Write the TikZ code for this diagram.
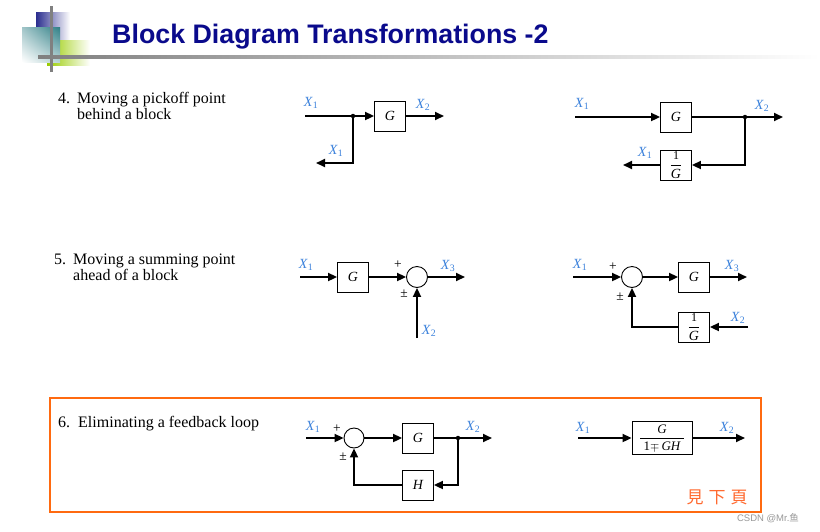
\documentclass[tikz,border=0pt]{standalone}
\usepackage{fontspec}
\setmainfont{Liberation Serif}
\newfontfamily\titlefont{Liberation Sans}
\newfontfamily\cjkfont{Noto Sans CJK TC}
\usetikzlibrary{arrows.meta,calc,shadings}
\definecolor{titleblue}{HTML}{0A0A8C}
\definecolor{lblblue}{HTML}{3C82DC}
\definecolor{boxorange}{HTML}{FF6A10}
\definecolor{noteorange}{HTML}{FF6A30}
\definecolor{logonavy}{HTML}{2B2E8F}
\definecolor{logoteal}{HTML}{2F7F86}
\definecolor{logogreen}{HTML}{99CC00}
\begin{document}
\begin{tikzpicture}[x=1pt,y=-1pt,
 sig/.style={line width=2pt,-{Triangle[length=9pt,width=8pt]}},
 wire/.style={line width=2pt},
 blk/.style={draw,line width=0.9pt,minimum width=31pt,minimum height=30pt,inner sep=0pt,font=\fontsize{14}{16}\selectfont\itshape},
 sumj/.style={draw,circle,line width=0.9pt,minimum size=21pt,inner sep=0pt},
 lbl/.style={text=lblblue,font=\fontsize{14}{16}\selectfont,inner sep=0pt},
 sgn/.style={font=\fontsize{13.5}{15}\selectfont,inner sep=0pt},
 itemtxt/.style={font=\fontsize{16}{18}\selectfont,anchor=base west,inner sep=0pt},
 jdot/.style={circle,fill,inner sep=0pt,minimum size=4.5pt}
]
\useasboundingbox (0,0) rectangle (820,531);
\fill[white] (0,0) rectangle (820,531);

% logo
\shade[left color=logonavy, middle color=logonavy!85, right color=white] (36,12) rectangle (70,40);
\shade[left color=logogreen, middle color=logogreen!80, right color=white] (47,40) rectangle (90,65);
\shade[upper right=logoteal, upper left=logoteal!45, lower left=white, lower right=logoteal!35] (22,27) rectangle (60,62);
\draw[gray, line width=3pt] (51,6) -- (51,72);
\shade[left color=gray, right color=white] (38,55.5) rectangle (820,58.5);

% title
\node[anchor=base west, text=titleblue, inner sep=0pt, font=\titlefont\bfseries\fontsize{26.8}{30}\selectfont] (title) at (112,43) {Block Diagram Transformations -2};

% item texts
\node[itemtxt] (n4) at (58,103) {4.};
\node[itemtxt] (t4a) at (77,103) {Moving a pickoff point};
\node[itemtxt] (t4b) at (77,119) {behind a block};
\node[itemtxt] (n5) at (54,264) {5.};
\node[itemtxt] (t5a) at (73,264) {Moving a summing point};
\node[itemtxt] (t5b) at (73,280) {ahead of a block};
\node[itemtxt] (n6) at (58,427) {6.};
\node[itemtxt] (t6a) at (78,427) {Eliminating a feedback loop};

% ---- 4 left
\node[blk] (g4a) at (390,116) {G};
\coordinate (in4a) at (305,116);
\node[jdot] (j4a) at (353,116) {};
\coordinate (out4a) at (444,116);
\coordinate (e4a) at (316,163);
\draw[wire] (in4a) -- (j4a);
\draw[sig] (j4a) -- (g4a);
\draw[sig] (g4a) -- (out4a);
\draw[sig] (j4a) |- (e4a);
\node[lbl] (l4a1) at (311,103) {\textit{X}\textsubscript{1}};
\node[lbl] (l4a2) at (423,105) {\textit{X}\textsubscript{2}};
\node[lbl] (l4a3) at (336,151) {\textit{X}\textsubscript{1}};

% ---- 4 right
\node[blk] (g4b) at (676,117) {G};
\node[blk] (h4b) at (676,165) {$\displaystyle\frac{\mbox{\upshape\fontsize{12}{14}\selectfont 1}}{\mbox{\itshape G}}$};
\coordinate (in4b) at (575,117);
\node[jdot] (j4b) at (745,117) {};
\coordinate (out4b) at (783,117);
\coordinate (e4b) at (623,165);
\draw[sig] (in4b) -- (g4b);
\draw[wire] (g4b) -- (j4b);
\draw[sig] (j4b) -- (out4b);
\draw[sig] (j4b) |- (h4b);
\draw[sig] (h4b) -- (e4b);
\node[lbl] (l4b1) at (582,104) {\textit{X}\textsubscript{1}};
\node[lbl] (l4b2) at (762,106) {\textit{X}\textsubscript{2}};
\node[lbl] (l4b3) at (645,153) {\textit{X}\textsubscript{1}};

% ---- 5 left
\node[blk] (g5a) at (353,277) {G};
\node[sumj] (s5a) at (417,277) {};
\coordinate (in5a) at (300,277);
\coordinate (out5a) at (465,277);
\coordinate (x5a) at (417,338);
\draw[sig] (in5a) -- (g5a);
\draw[sig] (g5a) -- (s5a);
\draw[sig] (s5a) -- (out5a);
\draw[sig] (x5a) -- (s5a);
\node[lbl] (l5a1) at (306,265) {\textit{X}\textsubscript{1}};
\node[lbl] (l5a3) at (448,266) {\textit{X}\textsubscript{3}};
\node[lbl] (l5a2) at (429,331) {\textit{X}\textsubscript{2}};
\node[sgn] (p5a) at (398,265) {+};
\node[sgn] (m5a) at (404,294) {±};

% ---- 5 right
\node[sumj] (s5b) at (632,277) {};
\node[blk] (g5b) at (694,277) {G};
\node[blk] (h5b) at (694,327) {$\displaystyle\frac{\mbox{\upshape\fontsize{12}{14}\selectfont 1}}{\mbox{\itshape G}}$};
\coordinate (in5b) at (573,277);
\coordinate (out5b) at (747,277);
\coordinate (x5b) at (748,327);
\draw[sig] (in5b) -- (s5b);
\draw[sig] (s5b) -- (g5b);
\draw[sig] (g5b) -- (out5b);
\draw[sig] (x5b) -- (h5b);
\draw[sig] (h5b) -| (s5b);
\node[lbl] (l5b1) at (580,265) {\textit{X}\textsubscript{1}};
\node[lbl] (l5b3) at (732,266) {\textit{X}\textsubscript{3}};
\node[lbl] (l5b2) at (738,318) {\textit{X}\textsubscript{2}};
\node[sgn] (p5b) at (613,267) {+};
\node[sgn] (m5b) at (620,297) {±};

% ---- 6 left
\node[sumj, minimum size=20pt] (s6) at (354,438) {};
\node[blk] (g6) at (418,438) {G};
\node[blk] (h6) at (418,485) {H};
\coordinate (in6) at (306,438);
\node[jdot] (j6) at (458,438) {};
\coordinate (out6) at (492,438);
\draw[sig] (in6) -- (s6);
\draw[sig] (s6) -- (g6);
\draw[wire] (g6) -- (j6);
\draw[sig] (j6) -- (out6);
\draw[sig] (j6) |- (h6);
\draw[sig] (h6) -| (s6);
\node[lbl] (l61) at (313,427) {\textit{X}\textsubscript{1}};
\node[lbl] (l62) at (473,427) {\textit{X}\textsubscript{2}};
\node[sgn] (p6) at (337,429) {+};
\node[sgn] (m6) at (343,457) {±};

% ---- 6 right
\node[blk, minimum width=60pt, minimum height=33pt, font=\fontsize{13}{15}\selectfont] (g6b) at (662,438) {$\displaystyle\frac{\mbox{\itshape G}}{\rule{0pt}{10pt}\;\mbox{1}{\mp}\,\mbox{\itshape GH}\;}$};
\coordinate (in6b) at (578,438);
\coordinate (out6b) at (745,438);
\draw[sig] (in6b) -- (g6b);
\draw[sig] (g6b) -- (out6b);
\node[lbl] (l6b1) at (583,428) {\textit{X}\textsubscript{1}};
\node[lbl] (l6b2) at (727,428) {\textit{X}\textsubscript{2}};

% orange frame
\draw[boxorange, line width=2pt] (50,398) rectangle (761,512);
\node[text=noteorange, font=\cjkfont\fontsize{17}{20}\selectfont, inner sep=0pt] (note) at (717,497) {見\hspace{5pt}下\hspace{5pt}頁};

% watermark
\node[text=gray!80, inner sep=0pt, font=\titlefont\fontsize{9.5}{11}\selectfont] (wm) at (768,518) {CSDN @Mr.{\cjkfont 鱼}};
\end{tikzpicture}
\end{document}
